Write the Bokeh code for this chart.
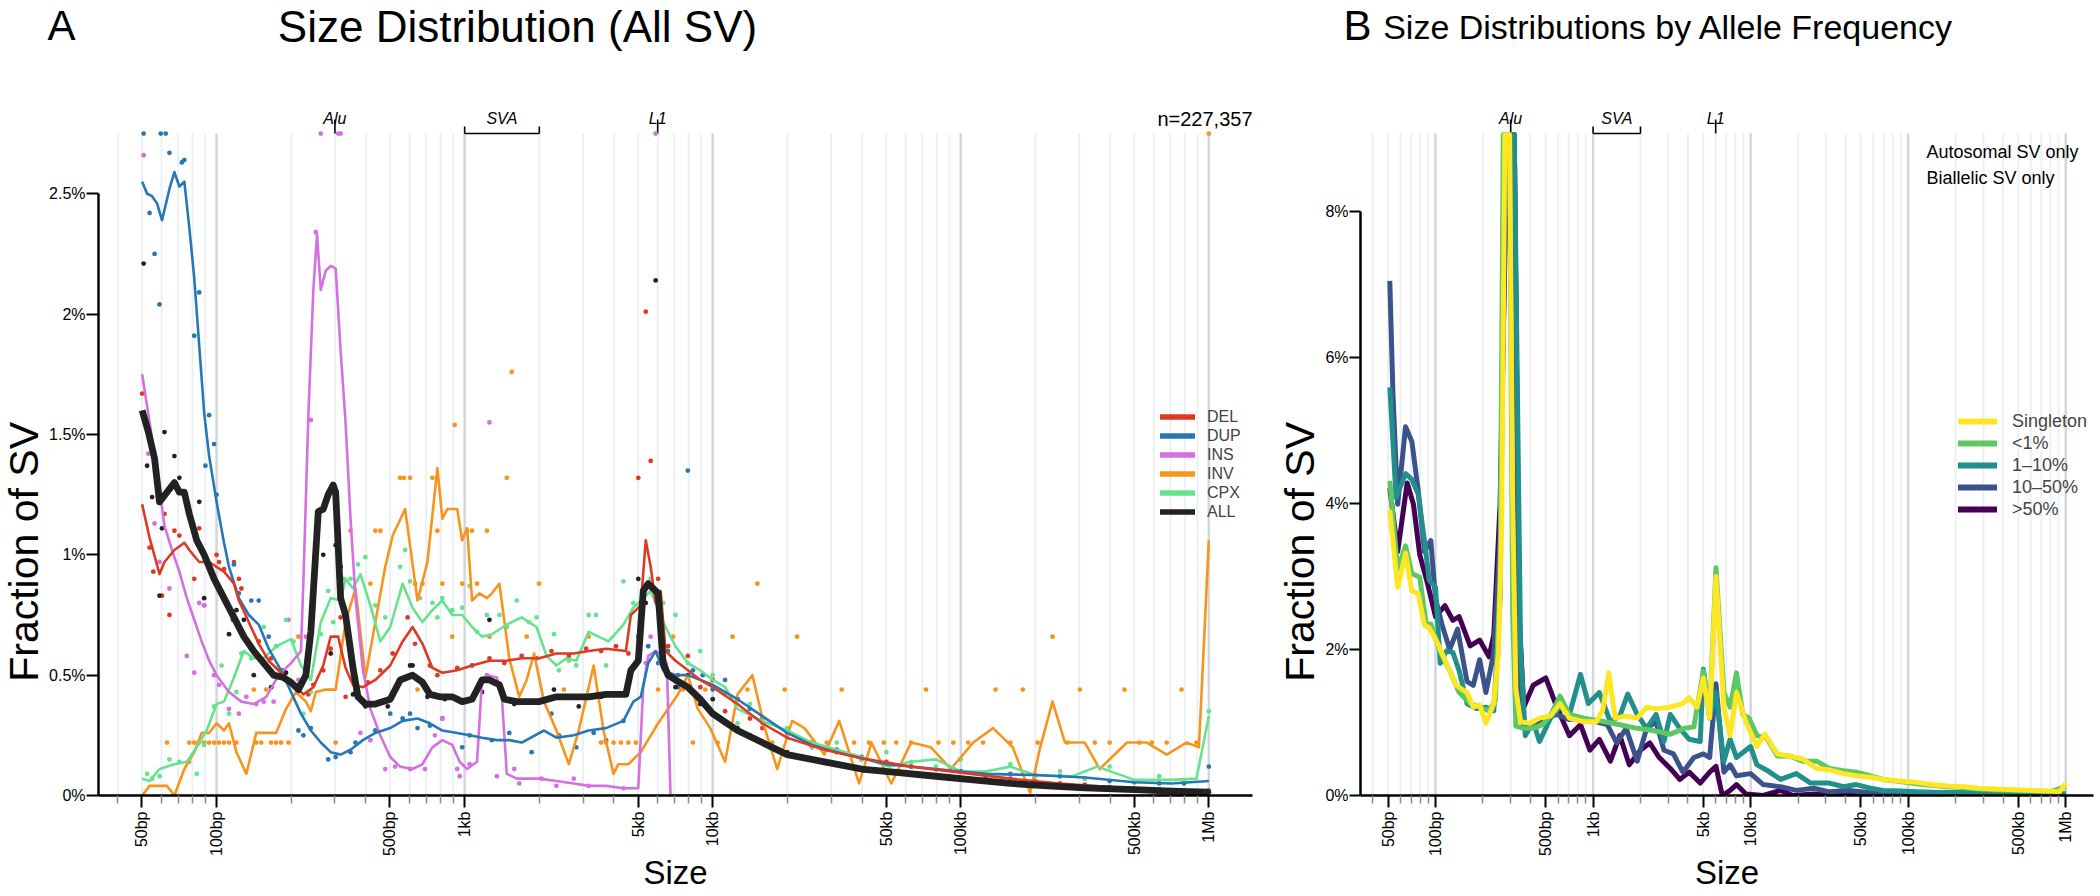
import json
import math
from bokeh.plotting import figure
from bokeh.layouts import row, column
from bokeh.models import Range1d, FixedTicker, CustomJSTickFormatter, Label, Legend, LegendItem
from bokeh.embed import file_html
from bokeh.resources import INLINE

FONT = "Liberation Sans"

# ---------------- tick data ----------------
MAJOR_TICKS = [50, 100, 500, 1000, 5000, 10000, 50000, 100000, 500000, 1000000]
MAJOR_LABELS = ["50bp", "100bp", "500bp", "1kb", "5kb", "10kb", "50kb", "100kb", "500kb", "1Mb"]
A_YTICKS = [0, 0.5, 1, 1.5, 2, 2.5]
B_YTICKS = [0, 2, 4, 6, 8]

# ---------------- panel A data: (log10 size in bp, % of SV) ----------------
DEL_LINE = [(1.70,1.21),(1.73,1.07),(1.77,0.92),(1.79,0.97),(1.83,1.02),(1.87,1.05),(1.89,1.02),(1.93,0.97),(1.97,0.97),(2.00,0.95),(2.03,0.93),(2.07,0.88),(2.09,0.81),(2.13,0.72),(2.17,0.63),(2.21,0.56),(2.26,0.51),(2.30,0.47),(2.35,0.42),(2.39,0.45),(2.43,0.54),(2.46,0.66),(2.49,0.66),(2.52,0.53),(2.55,0.46),(2.59,0.45),(2.64,0.48),(2.70,0.54),(2.75,0.64),(2.79,0.70),(2.83,0.63),(2.87,0.53),(2.91,0.51),(2.97,0.52),(3.03,0.54),(3.10,0.56),(3.17,0.56),(3.23,0.57),(3.30,0.57),(3.37,0.59),(3.44,0.59),(3.50,0.60),(3.57,0.61),(3.65,0.60),(3.67,0.75),(3.71,0.79),(3.73,1.06),(3.75,0.95),(3.77,0.80),(3.79,0.85),(3.81,0.60),(3.85,0.56),(3.90,0.52),(3.95,0.48),(4.00,0.45),(4.10,0.38),(4.20,0.30),(4.30,0.24),(4.45,0.19),(4.60,0.155),(4.80,0.12),(5.00,0.095),(5.20,0.07),(5.40,0.05),(5.60,0.035),(5.80,0.025),(6.00,0.02)]
DUP_LINE = [(1.70,2.55),(1.72,2.50),(1.74,2.49),(1.76,2.46),(1.78,2.39),(1.81,2.52),(1.83,2.59),(1.85,2.53),(1.87,2.55),(1.89,2.36),(1.91,2.15),(1.93,1.87),(1.95,1.59),(1.97,1.41),(2.00,1.22),(2.03,1.05),(2.05,0.95),(2.09,0.82),(2.13,0.75),(2.17,0.71),(2.21,0.61),(2.26,0.52),(2.30,0.43),(2.34,0.34),(2.38,0.27),(2.42,0.22),(2.46,0.18),(2.50,0.17),(2.54,0.19),(2.59,0.23),(2.64,0.26),(2.70,0.28),(2.75,0.31),(2.81,0.32),(2.86,0.30),(2.91,0.27),(2.97,0.26),(3.02,0.25),(3.07,0.24),(3.13,0.23),(3.18,0.23),(3.23,0.22),(3.32,0.27),(3.37,0.24),(3.44,0.25),(3.50,0.27),(3.57,0.28),(3.64,0.31),(3.68,0.39),(3.71,0.41),(3.74,0.55),(3.77,0.60),(3.80,0.52),(3.85,0.50),(3.90,0.50),(4.00,0.46),(4.10,0.40),(4.20,0.33),(4.30,0.26),(4.40,0.21),(4.50,0.18),(4.70,0.13),(4.90,0.11),(5.10,0.09),(5.30,0.085),(5.50,0.075),(5.70,0.055),(5.85,0.05),(6.00,0.06)]
INS_LINE = [(1.70,1.75),(1.73,1.55),(1.76,1.35),(1.79,1.12),(1.82,1.02),(1.85,0.93),(1.88,0.82),(1.91,0.73),(1.94,0.64),(1.97,0.56),(2.00,0.50),(2.05,0.43),(2.10,0.39),(2.15,0.38),(2.20,0.41),(2.25,0.50),(2.30,0.55),(2.34,0.60),(2.35,0.89),(2.37,1.58),(2.39,2.10),(2.405,2.33),(2.42,2.10),(2.44,2.18),(2.46,2.20),(2.48,2.19),(2.50,1.85),(2.52,1.55),(2.54,1.15),(2.56,0.82),(2.59,0.52),(2.62,0.36),(2.66,0.25),(2.70,0.16),(2.74,0.12),(2.79,0.11),(2.83,0.13),(2.87,0.20),(2.91,0.23),(2.95,0.21),(2.98,0.14),(3.01,0.11),(3.05,0.14),(3.07,0.48),(3.09,0.50),(3.13,0.49),(3.15,0.41),(3.17,0.09),(3.21,0.07),(3.30,0.07),(3.37,0.06),(3.44,0.05),(3.50,0.04),(3.57,0.04),(3.64,0.03),(3.70,0.03),(3.72,0.45),(3.74,0.58),(3.77,0.60),(3.80,0.58),(3.815,0.55),(3.83,0.0),(4.00,0.0),(4.50,0.0),(5.00,0.0),(5.50,0.0),(6.00,0.0)]
INV_LINE = [(1.70,0.0),(1.73,0.04),(1.80,0.04),(1.83,0.0),(1.87,0.11),(1.91,0.18),(1.94,0.26),(1.97,0.26),(2.00,0.30),(2.03,0.27),(2.05,0.30),(2.08,0.18),(2.12,0.09),(2.16,0.26),(2.20,0.26),(2.24,0.26),(2.28,0.36),(2.32,0.43),(2.36,0.39),(2.38,0.35),(2.40,0.43),(2.44,0.44),(2.48,0.44),(2.52,0.72),(2.56,0.86),(2.60,0.49),(2.64,0.72),(2.68,0.95),(2.71,1.08),(2.76,1.19),(2.81,0.81),(2.85,0.97),(2.89,1.36),(2.91,1.15),(2.93,1.19),(2.97,1.19),(2.99,1.06),(3.01,1.11),(3.03,0.81),(3.06,0.84),(3.09,0.82),(3.11,0.84),(3.14,0.88),(3.18,0.57),(3.22,0.41),(3.25,0.48),(3.28,0.59),(3.32,0.39),(3.37,0.27),(3.42,0.13),(3.46,0.27),(3.52,0.54),(3.56,0.27),(3.60,0.09),(3.62,0.13),(3.66,0.13),(3.71,0.18),(3.78,0.30),(3.82,0.36),(3.86,0.42),(3.90,0.50),(3.94,0.36),(3.99,0.28),(4.05,0.14),(4.10,0.42),(4.16,0.50),(4.21,0.28),(4.26,0.11),(4.32,0.31),(4.37,0.28),(4.45,0.17),(4.51,0.31),(4.59,0.05),(4.64,0.22),(4.72,0.05),(4.80,0.22),(4.88,0.20),(4.96,0.11),(5.05,0.22),(5.13,0.28),(5.21,0.20),(5.28,0.01),(5.32,0.20),(5.37,0.39),(5.42,0.22),(5.50,0.22),(5.56,0.11),(5.67,0.22),(5.75,0.22),(5.83,0.17),(5.91,0.22),(5.96,0.20),(6.00,1.06)]
CPX_LINE = [(1.70,0.07),(1.73,0.06),(1.77,0.11),(1.83,0.13),(1.88,0.14),(1.92,0.20),(1.96,0.27),(2.00,0.38),(2.03,0.39),(2.07,0.49),(2.11,0.60),(2.15,0.57),(2.19,0.57),(2.23,0.61),(2.26,0.63),(2.30,0.65),(2.34,0.54),(2.38,0.48),(2.42,0.72),(2.46,0.82),(2.50,0.81),(2.52,0.90),(2.55,0.86),(2.58,0.92),(2.62,0.79),(2.66,0.64),(2.70,0.70),(2.75,0.88),(2.79,0.78),(2.83,0.72),(2.87,0.77),(2.91,0.81),(2.95,0.75),(2.99,0.75),(3.03,0.70),(3.07,0.66),(3.11,0.67),(3.17,0.71),(3.23,0.74),(3.29,0.70),(3.33,0.58),(3.37,0.54),(3.41,0.57),(3.45,0.56),(3.50,0.68),(3.54,0.66),(3.58,0.64),(3.64,0.71),(3.68,0.78),(3.71,0.81),(3.75,0.85),(3.80,0.72),(3.85,0.62),(3.90,0.55),(3.95,0.52),(4.00,0.48),(4.05,0.45),(4.10,0.36),(4.20,0.31),(4.30,0.27),(4.40,0.22),(4.50,0.19),(4.60,0.16),(4.71,0.12),(4.80,0.14),(4.90,0.15),(5.00,0.10),(5.10,0.10),(5.20,0.12),(5.30,0.085),(5.45,0.08),(5.55,0.12),(5.70,0.065),(5.85,0.065),(5.95,0.07),(6.00,0.33)]
ALL_LINE = [(1.70,1.60),(1.725,1.51),(1.75,1.40),(1.77,1.22),(1.80,1.26),(1.83,1.30),(1.85,1.26),(1.87,1.26),(1.89,1.17),(1.92,1.06),(1.95,1.00),(1.99,0.90),(2.03,0.82),(2.07,0.74),(2.11,0.66),(2.15,0.60),(2.19,0.55),(2.23,0.50),(2.27,0.49),(2.30,0.47),(2.33,0.44),(2.36,0.50),(2.38,0.68),(2.41,1.18),(2.43,1.19),(2.45,1.25),(2.47,1.29),(2.48,1.26),(2.50,0.82),(2.52,0.75),(2.55,0.53),(2.57,0.41),(2.60,0.38),(2.64,0.38),(2.70,0.40),(2.74,0.48),(2.79,0.50),(2.83,0.47),(2.86,0.42),(2.90,0.41),(2.95,0.41),(2.99,0.39),(3.03,0.40),(3.07,0.48),(3.10,0.48),(3.14,0.46),(3.16,0.40),(3.21,0.39),(3.30,0.39),(3.37,0.41),(3.50,0.41),(3.57,0.42),(3.65,0.42),(3.67,0.52),(3.70,0.56),(3.72,0.85),(3.74,0.88),(3.76,0.86),(3.78,0.84),(3.80,0.55),(3.82,0.50),(3.85,0.48),(3.90,0.45),(3.95,0.40),(4.00,0.34),(4.10,0.27),(4.20,0.22),(4.30,0.17),(4.45,0.14),(4.60,0.11),(4.75,0.095),(4.90,0.08),(5.05,0.065),(5.20,0.05),(5.35,0.04),(5.50,0.032),(5.70,0.024),(5.85,0.018),(6.00,0.014)]

DEL_DOTS = [(1.70,1.67),(1.73,1.03),(1.745,0.93),(1.78,0.83),(1.79,1.17),(1.81,0.75),(1.83,1.10),(1.85,1.08),(1.91,0.90),(1.93,1.11),(1.95,0.79),(2.00,1.00),(2.01,0.97),(2.03,0.94),(2.07,0.97),(2.065,0.73),(2.09,0.90),(2.10,0.86),(2.17,0.64),(2.22,0.57),(2.27,0.52),(2.32,0.45),(2.37,0.42),(2.39,0.46),(2.43,0.52),(2.46,0.61),(2.50,0.74),(2.52,0.41),(2.56,0.43),(2.61,0.47),(2.66,0.52),(2.71,0.59),(2.77,0.74),(2.80,0.63),(2.86,0.54),(2.89,0.50),(2.97,0.53),(3.03,0.54),(3.10,0.57),(3.16,0.55),(3.23,0.58),(3.29,0.57),(3.35,0.60),(3.42,0.58),(3.49,0.61),(3.55,0.60),(3.61,0.62),(3.66,0.59),(3.70,1.32),(3.73,2.01),(3.75,1.39),(3.78,0.90),(3.82,0.62),(3.86,0.50),(3.90,0.58),(3.95,0.45),(4.00,0.48),(4.05,0.35),(4.10,0.40),(4.15,0.32),(4.20,0.28),(4.30,0.26),(4.40,0.20),(4.50,0.18),(4.60,0.15),(4.70,0.14),(4.80,0.12),(4.90,0.11),(5.00,0.10),(5.10,0.08),(5.20,0.07),(5.30,0.06),(5.40,0.05),(5.50,0.045),(5.60,0.035),(5.70,0.03),(5.80,0.025),(5.90,0.02),(6.00,0.02)]
DUP_DOTS = [(1.706,2.75),(1.73,2.42),(1.75,2.25),(1.77,2.04),(1.775,2.75),(1.795,2.75),(1.81,2.67),(1.86,2.63),(1.87,2.64),(1.91,1.91),(1.93,2.09),(1.97,1.58),(1.99,1.46),(1.955,1.37),(2.00,1.25),(2.07,0.96),(2.09,0.84),(2.14,0.81),(2.17,0.81),(2.21,0.66),(2.26,0.52),(2.33,0.27),(2.35,0.25),(2.38,0.28),(2.45,0.15),(2.48,0.16),(2.54,0.18),(2.56,0.22),(2.64,0.27),(2.70,0.34),(2.75,0.32),(2.78,0.34),(2.81,0.28),(2.86,0.29),(2.91,0.32),(2.99,0.20),(3.02,0.25),(3.11,0.23),(3.18,0.26),(3.27,0.18),(3.35,0.34),(3.38,0.25),(3.45,0.20),(3.52,0.26),(3.57,0.23),(3.64,0.31),(3.70,0.66),(3.74,0.62),(3.78,0.55),(3.82,0.60),(3.86,0.45),(3.90,1.35),(3.92,0.52),(3.96,0.50),(4.00,0.44),(4.05,0.48),(4.10,0.40),(4.15,0.36),(4.20,0.32),(4.30,0.27),(4.40,0.22),(4.50,0.19),(4.60,0.16),(4.70,0.13),(4.80,0.12),(4.90,0.11),(5.00,0.10),(5.10,0.09),(5.20,0.09),(5.30,0.085),(5.40,0.08),(5.50,0.07),(5.60,0.06),(5.70,0.055),(5.80,0.05),(5.90,0.05),(6.00,0.12)]
INS_DOTS = [(1.706,2.66),(1.725,1.42),(1.75,1.13),(1.77,0.97),(1.81,0.86),(1.88,0.58),(1.91,0.51),(1.93,0.80),(1.95,0.79),(1.99,0.50),(2.01,0.46),(2.05,0.36),(2.09,0.34),(2.12,0.41),(2.16,0.38),(2.19,0.39),(2.23,0.39),(2.29,0.73),(2.33,0.48),(2.36,0.66),(2.38,1.56),(2.40,2.34),(2.42,2.75),(2.49,2.75),(2.50,2.75),(2.58,0.26),(2.62,0.23),(2.68,0.11),(2.72,0.12),(2.78,0.11),(2.84,0.11),(2.88,0.25),(2.91,0.32),(2.97,0.11),(2.98,0.08),(3.02,0.13),(3.09,0.50),(3.10,1.55),(3.13,0.08),(3.20,0.11),(3.22,0.05),(3.31,0.07),(3.37,0.04),(3.44,0.07),(3.50,0.04),(3.64,0.03),(3.73,0.55),(3.75,0.66),(3.77,2.75),(3.79,0.55)]
INV_DOTS = [(1.80,0.22),(1.89,0.22),(1.91,0.22),(1.93,0.22),(1.95,0.22),(1.97,0.22),(1.99,0.22),(2.01,0.22),(2.03,0.22),(2.05,0.22),(2.08,0.22),(2.15,0.44),(2.16,0.22),(2.18,0.22),(2.20,0.44),(2.22,0.22),(2.24,0.22),(2.26,0.22),(2.29,0.22),(2.33,0.66),(2.48,0.22),(2.54,1.10),(2.62,0.88),(2.64,1.10),(2.66,1.10),(2.74,1.32),(2.755,1.32),(2.78,1.32),(2.80,0.88),(2.81,0.44),(2.83,0.88),(2.87,1.32),(2.89,1.10),(2.91,0.88),(2.95,0.66),(2.96,1.54),(2.99,0.88),(3.01,1.10),(3.03,1.10),(3.05,0.88),(3.09,1.10),(3.10,0.66),(3.17,1.32),(3.19,1.76),(3.25,0.66),(3.30,0.88),(3.40,0.44),(3.50,0.66),(3.55,0.22),(3.57,0.22),(3.60,0.22),(3.63,0.22),(3.66,0.22),(3.69,0.22),(3.78,0.44),(3.84,0.66),(3.88,0.44),(3.92,0.22),(3.97,0.44),(4.02,0.22),(4.08,0.66),(4.14,0.44),(4.18,0.88),(4.24,0.22),(4.29,0.44),(4.34,0.66),(4.40,0.22),(4.46,0.22),(4.52,0.44),(4.57,0.22),(4.63,0.22),(4.69,0.22),(4.74,0.22),(4.80,0.22),(4.86,0.44),(4.91,0.22),(4.97,0.22),(5.03,0.22),(5.09,0.22),(5.14,0.44),(5.20,0.22),(5.25,0.44),(5.31,0.22),(5.37,0.66),(5.43,0.22),(5.48,0.44),(5.54,0.22),(5.60,0.22),(5.66,0.44),(5.72,0.22),(5.77,0.22),(5.83,0.22),(5.89,0.44),(5.95,0.22),(6.00,2.75)]
CPX_DOTS = [(1.72,0.09),(1.74,0.07),(1.77,0.08),(1.81,0.15),(1.85,0.14),(1.89,0.14),(1.92,0.09),(1.95,0.21),(1.99,0.37),(2.02,0.54),(2.05,0.34),(2.08,0.43),(2.10,0.59),(2.14,0.57),(2.19,0.70),(2.24,0.62),(2.28,0.73),(2.31,0.64),(2.35,0.34),(2.38,0.43),(2.42,0.67),(2.45,0.85),(2.47,0.72),(2.51,0.90),(2.54,0.90),(2.57,0.96),(2.60,0.99),(2.64,0.79),(2.68,0.74),(2.74,0.95),(2.76,1.02),(2.78,0.89),(2.82,0.82),(2.87,0.80),(2.89,0.74),(2.91,0.82),(2.95,0.77),(2.99,0.78),(3.02,0.87),(3.05,0.68),(3.09,0.75),(3.14,0.75),(3.17,0.70),(3.21,0.81),(3.26,0.72),(3.29,0.74),(3.36,0.67),(3.38,0.52),(3.42,0.56),(3.45,0.54),(3.50,0.75),(3.53,0.75),(3.57,0.54),(3.64,0.89),(3.68,0.80),(3.75,0.90),(3.80,0.80),(3.85,0.75),(3.90,0.55),(3.95,0.60),(4.00,0.50),(4.05,0.42),(4.10,0.30),(4.15,0.38),(4.20,0.30),(4.30,0.28),(4.40,0.20),(4.50,0.22),(4.60,0.15),(4.70,0.18),(4.80,0.14),(4.90,0.12),(5.00,0.15),(5.10,0.09),(5.20,0.13),(5.30,0.08),(5.40,0.10),(5.50,0.07),(5.60,0.12),(5.70,0.06),(5.80,0.08),(5.90,0.06),(6.00,0.35)]
ALL_DOTS = [(1.706,2.21),(1.72,1.37),(1.74,1.24),(1.77,0.83),(1.78,1.11),(1.79,1.51),(1.83,1.41),(1.85,1.32),(1.93,1.22),(1.95,0.82),(2.05,0.67),(2.08,0.77),(2.11,0.73),(2.15,0.50),(2.22,0.45),(2.28,0.51),(2.33,0.46),(2.43,1.00),(2.46,0.59),(2.48,1.04),(2.50,0.95),(2.55,0.42),(2.60,0.37),(2.69,0.37),(2.78,0.54),(2.79,0.54),(2.85,0.41),(2.92,0.40),(3.00,0.39),(3.07,0.43),(3.10,0.73),(3.20,0.38),(3.36,0.44),(3.46,0.37),(3.55,0.41),(3.70,0.90),(3.73,0.80),(3.77,2.14),(3.80,0.60),(3.85,0.45),(3.90,0.50),(3.95,0.38),(4.00,0.40),(4.05,0.30),(4.10,0.28),(4.15,0.25),(4.20,0.22),(4.25,0.19),(4.30,0.18),(4.35,0.16),(4.40,0.15),(4.45,0.14),(4.50,0.13),(4.60,0.11),(4.70,0.10),(4.80,0.09),(4.90,0.08),(5.00,0.07),(5.10,0.06),(5.20,0.05),(5.30,0.045),(5.40,0.04),(5.50,0.033),(5.60,0.028),(5.70,0.024),(5.80,0.02),(5.90,0.016),(6.00,0.014)]

# ---------------- panel B data: (log10 size in bp, % of SV); 9.05 = clipped at top ----------------
B_SINGLETON = [(1.71,3.91),(1.76,2.85),(1.81,3.32),(1.85,2.80),(1.89,2.77),(1.93,2.33),(1.96,2.30),(2.01,2.10),(2.07,1.81),(2.13,1.51),(2.20,1.41),(2.24,1.21),(2.28,1.24),(2.32,0.99),(2.37,1.26),(2.40,1.96),(2.42,3.69),(2.44,9.05),(2.47,9.05),(2.49,4.0),(2.51,1.46),(2.54,1.01),(2.60,0.99),(2.66,1.06),(2.73,1.09),(2.79,1.26),(2.85,1.06),(2.94,1.01),(3.02,1.01),(3.06,1.16),(3.10,1.68),(3.14,1.06),(3.21,1.09),(3.28,1.06),(3.34,1.21),(3.40,1.19),(3.49,1.21),(3.57,1.26),(3.61,1.34),(3.66,1.21),(3.70,1.61),(3.74,1.06),(3.78,3.00),(3.83,1.21),(3.87,0.82),(3.91,1.41),(3.97,1.01),(4.04,0.67),(4.09,0.84),(4.17,0.57),(4.25,0.54),(4.33,0.50),(4.42,0.37),(4.50,0.35),(4.59,0.30),(4.67,0.27),(4.76,0.25),(4.84,0.22),(4.95,0.20),(5.05,0.18),(5.15,0.15),(5.25,0.13),(5.35,0.12),(5.45,0.10),(5.55,0.09),(5.68,0.08),(5.80,0.07),(5.90,0.06),(5.96,0.05),(6.00,0.17)]
B_LT1 = [(1.71,4.31),(1.76,3.09),(1.81,3.42),(1.85,3.04),(1.90,2.99),(1.94,2.35),(1.97,2.35),(2.03,1.96),(2.09,1.71),(2.15,1.41),(2.22,1.26),(2.28,1.21),(2.34,1.16),(2.38,1.30),(2.41,3.00),(2.43,9.05),(2.47,9.05),(2.49,2.50),(2.51,0.95),(2.56,0.92),(2.62,0.92),(2.68,0.97),(2.73,1.10),(2.79,1.36),(2.85,1.11),(2.94,1.06),(3.02,1.03),(3.10,1.00),(3.17,0.97),(3.28,0.92),(3.38,0.89),(3.49,0.84),(3.58,0.92),(3.64,0.94),(3.70,1.71),(3.74,1.11),(3.78,3.12),(3.83,1.41),(3.87,1.21),(3.91,1.68),(3.95,1.11),(3.99,1.06),(4.04,0.82),(4.10,0.79),(4.17,0.54),(4.25,0.54),(4.33,0.47),(4.42,0.47),(4.50,0.37),(4.59,0.34),(4.67,0.32),(4.76,0.27),(4.84,0.22),(4.95,0.19),(5.05,0.16),(5.15,0.14),(5.25,0.12),(5.35,0.11),(5.45,0.09),(5.55,0.08),(5.68,0.07),(5.80,0.06),(5.90,0.05),(6.00,0.12)]
B_1TO10 = [(1.71,5.59),(1.75,4.08),(1.81,4.41),(1.85,4.33),(1.89,4.13),(1.93,3.49),(1.96,2.95),(2.00,2.85),(2.03,1.81),(2.07,1.98),(2.11,1.96),(2.15,1.71),(2.20,1.26),(2.26,1.19),(2.32,1.21),(2.37,1.16),(2.41,2.70),(2.44,9.05),(2.50,9.05),(2.54,2.00),(2.57,0.82),(2.62,1.01),(2.66,0.74),(2.73,1.06),(2.79,1.21),(2.85,1.11),(2.92,1.66),(2.97,1.26),(3.04,1.41),(3.11,1.01),(3.17,1.09),(3.22,1.39),(3.28,1.11),(3.34,0.92),(3.40,1.11),(3.45,0.74),(3.49,1.11),(3.55,0.92),(3.61,0.77),(3.68,0.74),(3.70,1.73),(3.74,1.06),(3.78,1.41),(3.83,0.47),(3.87,0.77),(3.91,0.52),(4.00,0.67),(4.04,0.42),(4.10,0.35),(4.19,0.22),(4.29,0.30),(4.38,0.17),(4.50,0.17),(4.59,0.12),(4.67,0.15),(4.76,0.10),(4.84,0.07),(4.95,0.06),(5.05,0.05),(5.20,0.04),(5.35,0.04),(5.50,0.03),(5.70,0.03),(5.85,0.03),(6.00,0.02)]
B_10TO50 = [(1.71,7.05),(1.73,5.50),(1.76,3.99),(1.81,5.05),(1.85,4.85),(1.89,4.18),(1.93,3.34),(1.97,3.49),(2.00,2.70),(2.04,2.35),(2.09,2.00),(2.14,2.28),(2.20,1.56),(2.24,1.51),(2.28,1.86),(2.32,1.41),(2.37,1.96),(2.41,3.50),(2.45,9.05),(2.50,9.05),(2.53,1.50),(2.56,0.92),(2.62,0.97),(2.68,1.06),(2.77,1.11),(2.85,1.04),(2.93,1.06),(3.02,1.01),(3.09,0.97),(3.15,0.72),(3.21,0.92),(3.28,0.47),(3.34,0.92),(3.40,1.01),(3.45,0.62),(3.51,0.57),(3.57,0.32),(3.64,0.52),(3.70,0.57),(3.74,0.52),(3.78,1.53),(3.83,0.32),(3.87,0.42),(3.91,0.27),(4.00,0.30),(4.08,0.15),(4.19,0.12),(4.29,0.07),(4.40,0.10),(4.50,0.05),(4.62,0.07),(4.75,0.04),(4.90,0.03),(5.10,0.03),(5.30,0.02),(5.50,0.04),(5.70,0.02),(5.90,0.03),(6.00,0.02)]
B_GT50 = [(1.71,4.21),(1.76,3.34),(1.82,4.28),(1.86,3.99),(1.90,3.30),(1.95,2.90),(2.00,2.45),(2.06,2.60),(2.11,2.40),(2.15,2.45),(2.22,2.05),(2.28,2.13),(2.34,1.90),(2.37,2.20),(2.41,4.00),(2.45,8.5),(2.47,9.05),(2.50,9.05),(2.53,2.50),(2.56,1.21),(2.62,1.51),(2.70,1.61),(2.77,1.21),(2.85,0.82),(2.92,0.97),(2.98,0.62),(3.04,0.77),(3.11,0.47),(3.17,0.82),(3.23,0.42),(3.30,0.62),(3.36,0.72),(3.42,0.52),(3.49,0.37),(3.55,0.22),(3.61,0.32),(3.68,0.17),(3.74,0.32),(3.78,0.40),(3.82,0.0),(3.87,0.07),(3.91,0.15),(3.97,0.02),(4.08,0.0),(4.19,0.07),(4.27,0.0),(4.40,0.02),(4.60,0.0),(4.80,0.02),(5.00,0.0),(5.30,0.01),(5.60,0.0),(6.00,0.0)]

A_SERIES = [("DEL", "#DD3A25", DEL_LINE, DEL_DOTS), ("DUP", "#2677B5", DUP_LINE, DUP_DOTS),
            ("INS", "#D470E2", INS_LINE, INS_DOTS), ("INV", "#F7941E", INV_LINE, INV_DOTS),
            ("CPX", "#67E28D", CPX_LINE, CPX_DOTS), ("ALL", "#222222", ALL_LINE, ALL_DOTS)]
B_SERIES = [("Singleton", "#FDE725", B_SINGLETON), ("<1%", "#5DC863", B_LT1),
            ("1\u201310%", "#21908C", B_1TO10), ("10\u201350%", "#3B528B", B_10TO50),
            (">50%", "#440154", B_GT50)]

# ---------------- geometry (page pixels, page origin = top-left of the window) ----------------
PAGE_W, PAGE_H = 2100, 896
LMIN, LMAX = 1.524, 6.176
HEADER_H = 58
MAIN_H = PAGE_H - HEADER_H
FRAME_BOTTOM = 795
A_LEFT, A_RIGHT = 96, 1252
B_LEFT, B_RIGHT = 1360, 2093
YLAB_A = (0, 46)
YLAB_B = (1276, 1322)
A_PPP = 240.7   # px per 1 %
B_PPP = 73.0
A_YMAX = (FRAME_BOTTOM - HEADER_H) / A_PPP
B_YMAX = (FRAME_BOTTOM - HEADER_H) / B_PPP
GRID_TOP_PX = 133
A_GRIDTOP = (FRAME_BOTTOM - GRID_TOP_PX) / A_PPP
B_GRIDTOP = (FRAME_BOTTOM - GRID_TOP_PX) / B_PPP
YLAB_CENTER = 619   # anchor that puts the rotated title's middle near y=529


def xs(pts):
    return [10 ** a for a, _ in pts]


def ys(pts):
    return [b for _, b in pts]


def minor_positions():
    out = []
    for k in range(1, 7):
        for d in range(1, 10):
            v = d * 10 ** k
            if 35 < v <= 1.2e6 and v not in MAJOR_TICKS:
                out.append(v)
    return out


MINOR = minor_positions()
DECADES = [100, 1000, 10000, 100000, 1000000]
LIGHT_GRID = [v for v in MINOR + MAJOR_TICKS if v not in DECADES]

xfmt_code = "const m = %s; const k = String(Math.round(tick)); return (k in m) ? m[k] : '';" % json.dumps(
    {str(t): l for t, l in zip(MAJOR_TICKS, MAJOR_LABELS)})


def plain_fig(x0, x1, y_top, y_bottom):
    p = figure(width=x1 - x0, height=y_bottom - y_top, x_range=Range1d(x0, x1),
               y_range=Range1d(y_bottom, y_top), x_axis_location=None, y_axis_location=None,
               output_backend="svg", toolbar_location=None, min_border=0)
    p.outline_line_color = None
    p.xgrid.visible = False
    p.ygrid.visible = False
    return p


def make_fig(x0, x1, left_px, right_px, ymax, ppp, gridtop, yticks, tick_out):
    p = figure(width=x1 - x0, height=MAIN_H, x_axis_type="log",
               x_range=Range1d(10 ** LMIN, 10 ** LMAX), y_range=Range1d(0, ymax),
               output_backend="svg", toolbar_location=None,
               min_border_left=left_px - x0, min_border_right=x1 - right_px, min_border_top=0,
               min_border_bottom=PAGE_H - FRAME_BOTTOM)
    p.outline_line_color = None
    p.xgrid.visible = False
    p.ygrid.visible = False
    p.segment(x0=LIGHT_GRID, y0=[0] * len(LIGHT_GRID), x1=LIGHT_GRID, y1=[gridtop] * len(LIGHT_GRID),
              line_color="#ECF0F3", line_width=2)
    p.segment(x0=DECADES, y0=[0] * len(DECADES), x1=DECADES, y1=[gridtop] * len(DECADES),
              line_color="#D3D7DA", line_width=2.5)

    xa = p.xaxis[0]
    xa.ticker = FixedTicker(ticks=MAJOR_TICKS, minor_ticks=MINOR)
    xa.formatter = CustomJSTickFormatter(code=xfmt_code)
    xa.major_label_orientation = math.pi / 2
    xa.major_label_text_font = FONT
    xa.major_label_text_font_size = "16px"
    xa.major_label_text_color = "black"
    xa.major_label_standoff = 4
    xa.major_tick_out = 12
    xa.major_tick_in = 0
    xa.major_tick_line_width = 2
    xa.minor_tick_out = 8
    xa.minor_tick_in = 0
    xa.minor_tick_line_color = "#8A8A8A"
    xa.minor_tick_line_width = 1.5
    xa.axis_line_width = 2.5
    xa.axis_label = "Size"
    xa.axis_label_text_font = FONT
    xa.axis_label_text_font_size = "33px"
    xa.axis_label_text_font_style = "normal"
    xa.axis_label_text_color = "black"
    xa.axis_label_standoff = -5

    ya = p.yaxis[0]
    ya.ticker = FixedTicker(ticks=yticks, minor_ticks=[])
    ya.formatter = CustomJSTickFormatter(code="return tick + '%';")
    ya.bounds = (0, yticks[-1])
    ya.major_label_text_font = FONT
    ya.major_label_text_font_size = "16px"
    ya.major_label_text_color = "black"
    ya.major_label_standoff = 1
    ya.major_tick_out = tick_out
    ya.major_tick_in = 0
    ya.major_tick_line_width = 2
    ya.minor_tick_out = 0
    ya.minor_tick_in = 0
    ya.axis_line_width = 2.5

    def py2y(py):
        return (FRAME_BOTTOM - py) / ppp

    def px2x(px):
        dec = (right_px - left_px) / (LMAX - LMIN)
        return 10 ** (LMIN + (px - left_px) / dec)

    return p, px2x, py2y


def add_repeats(p, py2y, gridtop):
    ty = py2y(118)
    p.text(x=[300, 1414, 6000], y=[ty] * 3, text=["Alu", "SVA", "L1"], text_align="center",
           text_baseline="middle", text_font_size="16px", text_font_style="italic",
           text_font={"value": FONT}, text_color="black")
    top = py2y(119)
    tick = py2y(126)
    p.segment(x0=[300, 6000, 1000, 1000, 2000], y0=[gridtop] * 5,
              x1=[300, 6000, 2000, 1000, 2000], y1=[top, top, gridtop, tick, tick],
              line_color="black", line_width=1.6)


def label(p, x, y, text, size, align="left", angle=0):
    # y is the vertical middle of the text
    p.add_layout(Label(x=x, y=y, text=text, text_font=FONT, text_font_size=size, text_align=align,
                       text_baseline="middle", angle=angle, text_color="black"))


# ---------------- header (panel letters and titles) ----------------
header = plain_fig(0, PAGE_W, 0, HEADER_H)
label(header, 47, 25, "A", "42px")
label(header, 517, 26, "Size Distribution (All SV)", "44px", align="center")
label(header, 1343, 25, "B", "42px")
label(header, 1668, 26, "Size Distributions by Allele Frequency", "34px", align="center")

# ---------------- y-axis titles ----------------
ylabA = plain_fig(YLAB_A[0], YLAB_A[1], HEADER_H, PAGE_H)
label(ylabA, sum(YLAB_A) / 2, YLAB_CENTER, "Fraction of SV", "41px", align="center", angle=math.pi / 2)
ylabB = plain_fig(YLAB_B[0], YLAB_B[1], HEADER_H, PAGE_H)
label(ylabB, sum(YLAB_B) / 2, YLAB_CENTER, "Fraction of SV", "41px", align="center", angle=math.pi / 2)

# ---------------- panel A ----------------
pA, ax, ay = make_fig(YLAB_A[1], YLAB_B[0], A_LEFT, A_RIGHT, A_YMAX, A_PPP, A_GRIDTOP, A_YTICKS, 12)
add_repeats(pA, ay, A_GRIDTOP)
for name, color, line, dots in A_SERIES:
    pA.scatter(xs(dots), ys(dots), size=4.8, color=color, line_color=None)
sd = {s[0]: s for s in A_SERIES}
for name in ["INV", "CPX", "INS", "DUP", "DEL", "ALL"]:
    _, color, line, _ = sd[name]
    pA.line(xs(line), ys(line), line_color=color, line_width=6.8 if name == "ALL" else 2.6,
            line_join="round")
itemsA = []
for name, color, _, _ in A_SERIES:
    r = pA.line(x=[1000, 1000], y=[float("nan")] * 2, line_color=color, line_width=5.5, line_cap="round")
    itemsA.append(LegendItem(label=name, renderers=[r]))
legA = Legend(items=itemsA, location=(1158 - A_LEFT, FRAME_BOTTOM - 521), orientation="vertical",
              padding=0, margin=0, spacing=0, glyph_width=35, glyph_height=19, label_height=19,
              label_standoff=12, label_text_font=FONT, label_text_font_size="16px",
              border_line_color=None, background_fill_alpha=0)
pA.add_layout(legA)
label(pA, ax(1252), ay(118), "n=227,357", "20px", align="right")

# ---------------- panel B ----------------
pB, bx, by = make_fig(YLAB_B[1], PAGE_W, B_LEFT, B_RIGHT, B_YMAX, B_PPP, B_GRIDTOP, B_YTICKS, 11)
add_repeats(pB, by, B_GRIDTOP)
for name, color, line in reversed(B_SERIES):
    pB.line(xs(line), ys(line), line_color=color, line_width=5, line_join="round")
itemsB = []
for name, color, _ in B_SERIES:
    r = pB.line(x=[1000, 1000], y=[float("nan")] * 2, line_color=color, line_width=6, line_cap="round")
    itemsB.append(LegendItem(label=name, renderers=[r]))
legB = Legend(items=itemsB, location=(1958 - B_LEFT, FRAME_BOTTOM - 520), orientation="vertical",
              padding=0, margin=0, spacing=0, glyph_width=39, glyph_height=22, label_height=22,
              label_standoff=15, label_text_font=FONT, label_text_font_size="18px",
              border_line_color=None, background_fill_alpha=0)
pB.add_layout(legB)
label(pB, bx(1926), by(151), "Autosomal SV only", "18px")
label(pB, bx(1926), by(177), "Biallelic SV only", "18px")

layout = column(header, row(ylabA, pA, ylabB, pB))
open("out.html", "w").write(file_html(layout, INLINE))
